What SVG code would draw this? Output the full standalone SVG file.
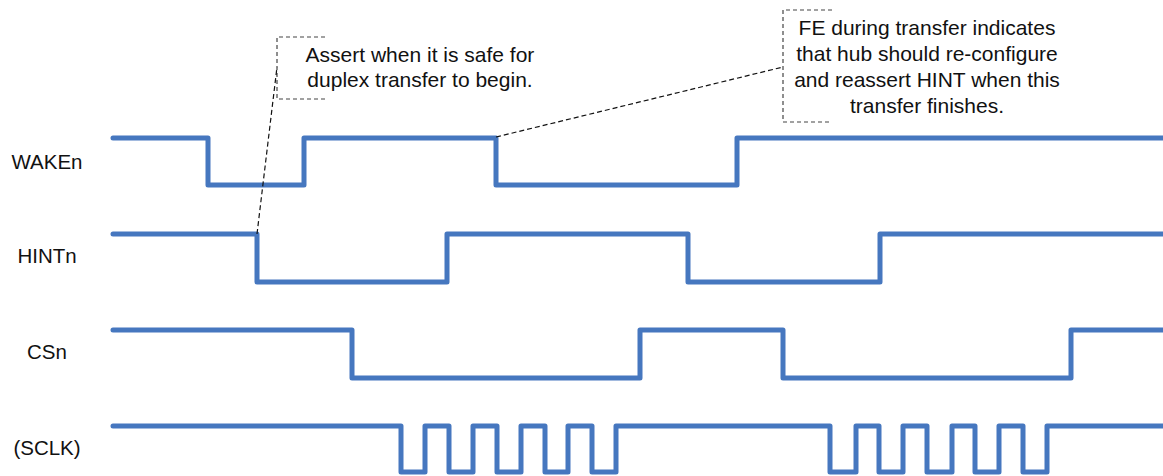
<svg xmlns="http://www.w3.org/2000/svg" width="1163" height="476" viewBox="0 0 1163 476">
<style>
.wave{fill:none;stroke:#4677BF;stroke-width:5;stroke-linejoin:round;stroke-linecap:round}
.lbl{font-family:"Liberation Sans",Arial,sans-serif;font-size:20.5px;fill:#111;text-anchor:middle}
.note{font-family:"Liberation Sans",Arial,sans-serif;font-size:21px;fill:#111;text-anchor:middle}
.brk{fill:none;stroke:#444;stroke-width:1.2;stroke-dasharray:4 3}
.lead{fill:none;stroke:#111;stroke-width:1.2;stroke-dasharray:5 3}
</style>
<rect width="1163" height="476" fill="#fff"/>
<g id="labels">
<text class="lbl" x="47" y="169">WAKEn</text>
<text class="lbl" x="47" y="263">HINTn</text>
<text class="lbl" x="47" y="359">CSn</text>
<text class="lbl" x="47" y="455">(SCLK)</text>
</g>
<g id="WAKEn">
<path class="wave" d="M113,138 H208 V185 H304 V138 H496 V185 H737 V138 H1166"/>
</g>
<g id="HINTn">
<path class="wave" d="M113,234 H257 V282 H447 V234 H688 V282 H880 V234 H1166"/>
</g>
<g id="CSn">
<path class="wave" d="M113,330 H352 V378 H640 V330 H783 V378 H1071 V330 H1166"/>
</g>
<g id="SCLK">
<path class="wave" d="M113,426 H401 V472 H425 V426 H449 V472 H473 V426 H497 V472 H521 V426 H545 V472 H568 V426 H592 V472 H616 V426 H830 V472 H856 V426 H879 V472 H903 V426 H927 V472 H952 V426 H975 V472 H999 V426 H1023 V472 H1047 V426 H1166"/>
</g>
<g id="note1">
<path class="brk" d="M325,37 H277 V99 H325"/>
<text class="note" x="420" y="62">Assert when it is safe for</text>
<text class="note" x="420" y="87">duplex transfer to begin.</text>
</g>
<g id="note2">
<path class="brk" d="M832,10 H783 V122 H832"/>
<text class="note" x="927" y="35">FE during transfer indicates</text>
<text class="note" x="927" y="61">that hub should re-configure</text>
<text class="note" x="927" y="87">and reassert HINT when this</text>
<text class="note" x="927" y="113">transfer finishes.</text>
</g>
<g id="connectors">
<path class="lead" d="M257,234 L277,67"/>
<path class="lead" d="M496,137 L783,67"/>
</g>
</svg>
